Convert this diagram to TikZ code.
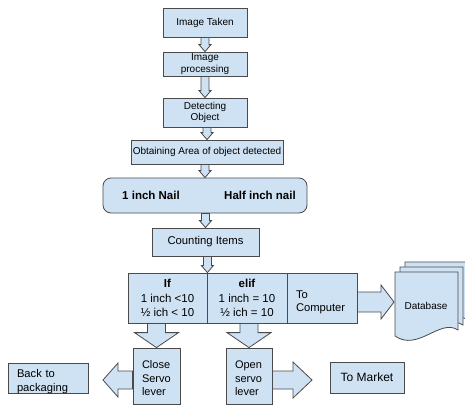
\documentclass[tikz,border=0pt]{standalone}
\usepackage{fontspec}
\setmainfont{Liberation Sans}
\usetikzlibrary{calc}

\definecolor{boxfill}{HTML}{CFE2F3}
\definecolor{boxline}{HTML}{4A4A4A}

\tikzset{
  box/.style={draw=boxline, fill=boxfill, line width=0.8pt, inner sep=0pt, align=center,
    font=\fontsize{10}{11.5}\selectfont},
  lbox/.style={box, align=left, inner xsep=9pt},
  blockarrow/.style={draw=boxline, fill=boxfill, line width=0.8pt, line join=miter},
  page/.style={draw=boxline, fill=boxfill, line width=0.8pt},
}

% invisible strut that pushes the first line down
\newcommand{\topgap}[1]{\rule{0pt}{#1}}

% down block arrow: from, to, shaft half width, head half width, head length
\newcommand{\vblock}[5]{%
  \draw[blockarrow] let \p1=(#1), \p2=(#2) in
    (\x2-#3pt,\y1) -- (\x2+#3pt,\y1) -- (\x2+#3pt,\y2+#5pt) -- (\x2+#4pt,\y2+#5pt)
    -- (\x2,\y2) -- (\x2-#4pt,\y2+#5pt) -- (\x2-#3pt,\y2+#5pt) -- cycle;}
% side block arrow: from, tip, shaft half width, head half width, head length (signed)
\newcommand{\hblock}[5]{%
  \draw[blockarrow] let \p1=(#1), \p2=(#2) in
    (\x1,\y2+#3pt) -- (\x2+#5pt,\y2+#3pt) -- (\x2+#5pt,\y2+#4pt) -- (\x2,\y2)
    -- (\x2+#5pt,\y2-#4pt) -- (\x2+#5pt,\y2-#3pt) -- (\x1,\y2-#3pt) -- cycle;}

\begin{document}
\begin{tikzpicture}[x=1pt, y=-1pt]
\useasboundingbox (0,0) rectangle (465,407);

\def \xmid   {205}
\def \xif    {167.5}
\def \xelif  {247}
\def \xcomp  {322}
\def \yrow   {298}
\def \ylever {376}

% main column
\node [box, minimum width=84pt, minimum height=29pt] (taken) at (\xmid, 22.5) {Image Taken};
\node [box, minimum width=84pt, minimum height=24pt] (proc) at (\xmid, 64) {Image\\processing};
\node [box, minimum width=84pt, minimum height=29pt] (detect) at (\xmid, 112.5) {Detecting\\Object};
\node [box, minimum width=152pt, minimum height=24pt] (area) at (207, 152) {Obtaining Area of object detected};
\node [box, rounded corners=8pt, minimum width=204pt, minimum height=35pt] (kind) at (\xmid, 195.5) {};
\node [font=\fontsize{11.5}{13}\selectfont\bfseries] (kindone) at (151, 195) {1 inch Nail};
\node [font=\fontsize{11.5}{13}\selectfont\bfseries] (kindhalf) at (260, 195) {Half inch nail};
\node [box, font=\fontsize{11.3}{13}\selectfont, minimum width=107pt, minimum height=28pt] (count) at (205.5, 242) {Counting Items};

% decision row
\node [box, font=\fontsize{11.5}{14.5}\selectfont, minimum width=79pt, minimum height=50pt] (ifc) at (\xif, \yrow)
  {\textbf{If}\\1 inch <10\\½ ich < 10};
\node [box, font=\fontsize{11.5}{14.5}\selectfont, minimum width=80pt, minimum height=50pt] (elifc) at (\xelif, \yrow)
  {\textbf{elif}\\1 inch = 10\\½ ich = 10};
\node [lbox, font=\fontsize{11.2}{13}\selectfont, text width=52pt, minimum height=50pt] (tocomp) at (\xcomp, \yrow)
  {\topgap{16pt}To\\Computer};

% levers
\node [lbox, font=\fontsize{11}{13.5}\selectfont, text width=29pt, minimum height=56pt] (close) at (156.5, \ylever)
  {\topgap{13pt}Close\\Servo\\lever};
\node [lbox, font=\fontsize{11}{13.5}\selectfont, text width=28pt, minimum height=56pt] (open) at (249, \ylever)
  {\topgap{13pt}Open\\servo\\lever};
\node [lbox, font=\fontsize{11.2}{14}\selectfont, text width=62pt, minimum height=29pt] (back) at (48, 378.5)
  {\topgap{14pt}Back to\\packaging};
\node [box, font=\fontsize{12}{14}\selectfont, minimum width=74pt, minimum height=31pt] (market) at (367, 377.5) {To Market};

% database stack
\foreach \d in {10,5,0}
  \draw [page, shift={(\d,-\d)}] (395,272) -- (458,272) -- (458,330)
    .. controls (440,318) and (418,352) .. (395,336) -- cycle;
\node [font=\fontsize{10}{12}\selectfont] (db) at (426, 306) {Database};

% arrow tips that stop short
\coordinate (backtip) at (103, 380);
\coordinate (markettip) at (312, 380);
\coordinate (dbtip) at (394, 302);

% small arrows
\vblock{taken.south}{proc.north}{4}{6}{7}
\vblock{proc.south}{detect.north}{4}{6}{7}
\vblock{detect.south}{area.north}{4}{6}{7}
\vblock{area.south}{kind.north}{4}{6}{7}
\vblock{kind.south}{count.north}{4}{6}{7}
\vblock{count.south}{ifc.north east}{4}{6}{7}

% big arrows
\vblock{ifc.south}{close.north}{9}{22}{15}
\vblock{elifc.south}{open.north}{9}{22}{15}
\hblock{close.west}{backtip}{9}{17}{15}
\hblock{open.east}{markettip}{9}{18}{-19}
\hblock{tocomp.east}{dbtip}{10}{17}{-13}

\end{tikzpicture}
\end{document}
